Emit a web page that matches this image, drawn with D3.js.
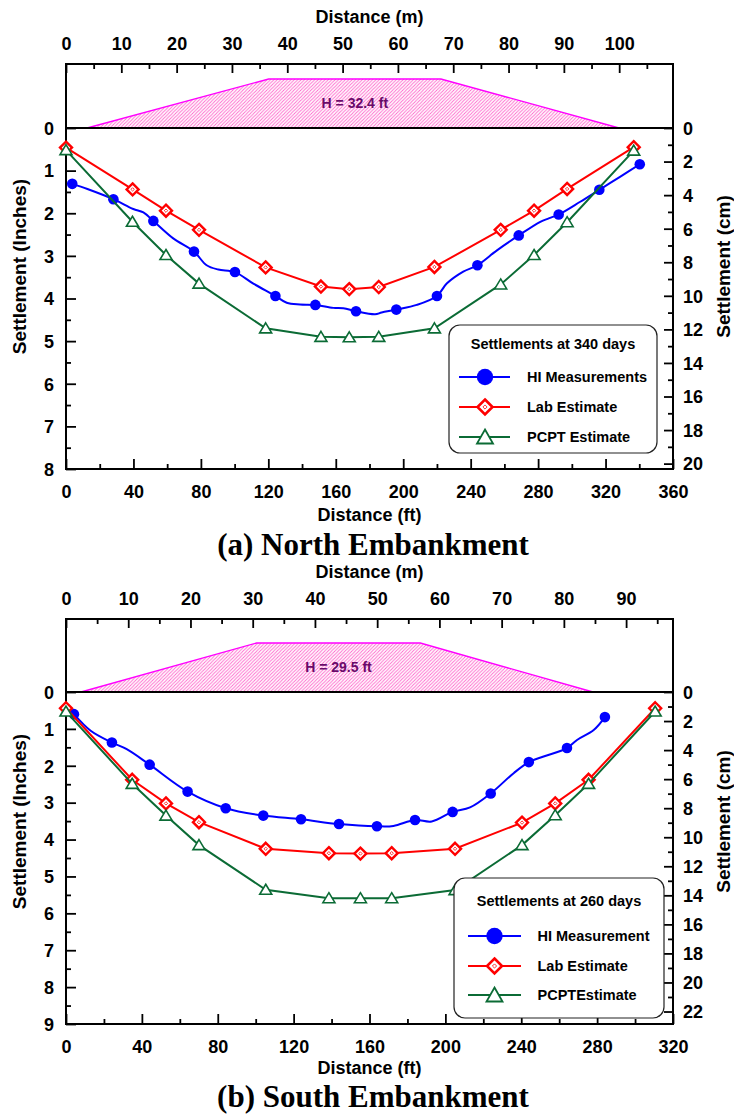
<!DOCTYPE html>
<html>
<head>
<meta charset="utf-8">
<script src="https://cdn.jsdelivr.net/npm/d3@7"></script>
<style>
  body { margin: 0; background: #fff; }
  svg { display: block; }
  text { font-family: "Liberation Sans", Arial, Helvetica, sans-serif; font-weight: bold; fill: #000; }
</style>
</head>
<body>
<svg id="chart" width="734" height="1116"></svg>
<script>
// ---------- North embankment: settlements at 340 days (distance ft, settlement in) ----------
const northHiMarkers = [[3.7,1.31],[28.1,1.67],[51.8,2.18],[75.9,2.90],[100.2,3.38],[124.2,3.94],[147.9,4.15],[172,4.30],[195.9,4.26],[220,3.94],[244,3.22],[268.5,2.52],[292.2,2.03],[316.3,1.45],[340.3,0.85]];
const northHiProfile = [[3.7,1.31],[12.7,1.43],[28.1,1.67],[39.9,1.90],[45.9,1.98],[51.8,2.18],[63.6,2.59],[75.9,2.90],[83.4,3.22],[90.3,3.32],[100.2,3.38],[111.1,3.65],[124.2,3.94],[130.9,4.10],[138.8,4.14],[147.9,4.15],[158.5,4.22],[164.5,4.23],[172,4.30],[183.3,4.37],[187.2,4.33],[195.9,4.26],[208,4.15],[220,3.94],[225.8,3.65],[235.6,3.37],[244,3.22],[255.6,2.87],[268.5,2.52],[281.3,2.20],[286.3,2.12],[292.2,2.03],[305,1.73],[316.3,1.45],[328.8,1.14],[340.3,0.85]];
const northLab = [[0,0.46],[39.5,1.44],[59.3,1.94],[78.9,2.39],[118.4,3.27],[151.2,3.72],[168,3.78],[185.5,3.73],[218.5,3.26],[257.8,2.39],[277.6,1.94],[297.2,1.43],[336.7,0.45]];
const northPcpt = [[0,0.52],[39.4,2.20],[59.3,2.98],[78.9,3.65],[118.4,4.70],[151.2,4.90],[168,4.91],[185.5,4.90],[218.5,4.70],[257.8,3.67],[277.6,2.98],[297.2,2.21],[336.7,0.53]];
const northEmbankment = [12.5, 120.2, 222.4, 328];   // toe, crest, crest, toe (ft)
const northHeight = 32.4;
const northSeriesNames = ["HI Measurements", "Lab Estimate", "PCPT Estimate"];

// ---------- South embankment: settlements at 260 days ----------
const southHiMarkers = [[4.2,0.60],[24.2,1.37],[44.1,1.97],[64.1,2.70],[84.2,3.15],[104,3.35],[123.9,3.45],[143.9,3.58],[163.9,3.64],[184,3.47],[203.8,3.25],[223.9,2.75],[244,1.90],[264.1,1.52],[284.1,0.68]];
const southHiProfile = [[4.2,0.60],[13,1.05],[24.2,1.37],[32,1.55],[44.1,1.97],[64.1,2.70],[84.2,3.15],[104,3.35],[123.9,3.45],[143.9,3.58],[163.9,3.64],[172.6,3.63],[184,3.47],[192.8,3.51],[203.8,3.25],[213,3.13],[223.9,2.75],[236,2.20],[244,1.90],[251.8,1.75],[264.1,1.52],[269.4,1.30],[278.2,1.03],[284.1,0.68]];
const southLab = [[0,0.44],[34.9,2.38],[52.7,3.02],[70.1,3.53],[105.3,4.25],[138.6,4.37],[155.2,4.38],[171.7,4.37],[205.1,4.25],[240.4,3.54],[257.9,3.02],[275.5,2.38],[310.6,0.44]];
const southPcpt = [[0,0.53],[34.9,2.49],[52.7,3.35],[70.1,4.15],[105.3,5.36],[138.6,5.59],[155.2,5.59],[171.7,5.59],[205.1,5.37],[240.4,4.15],[257.9,3.34],[275.5,2.49],[310.6,0.53]];
const southEmbankment = [7.9, 100.5, 186.8, 277.8];
const southHeight = 29.5;
const southSeriesNames = ["HI Measurement", "Lab Estimate", "PCPTEstimate"];

// ---------- Axis ticks ----------
const northFtTicks = d3.range(0, 361, 40);
const southFtTicks = d3.range(0, 321, 40);
const northMTicks = d3.range(0, 101, 10);
const southMTicks = d3.range(0, 91, 10);
const northInTicks = d3.range(0, 9, 1);
const southInTicks = d3.range(0, 10, 1);
const northCmTicks = d3.range(0, 21, 2);
const southCmTicks = d3.range(0, 23, 2);

const M_TO_FT = 1 / 0.3048;
const CM_PER_IN = 2.54;
const COLORS = { hi: "#0000ff", lab: "#ff0000", pcpt: "#0b6b35", emb: "#ff00ff", hatch: "#ff66cc", label: "#6a0a6a" };

const svg = d3.select("#chart");

// diagonal hatch used for the embankment fill
const defs = svg.append("defs");
const pat = defs.append("pattern").attr("id", "hatch").attr("patternUnits", "userSpaceOnUse")
  .attr("width", 3.4).attr("height", 3.4);
pat.append("path").attr("d", "M-1,1 l2,-2 M0,3.4 l3.4,-3.4 M2.4,4.4 l2,-2")
  .attr("stroke", COLORS.hatch).attr("stroke-width", 0.9);

const panels = [
  {
    frame: { left: 66, right: 673, top: 64, zero: 128, bottom: 469 },
    xMax: 360, inMax: 8, ftTicks: northFtTicks, mTicks: northMTicks, mMinorMax: 105,
    inTicks: northInTicks, cmTicks: northCmTicks, cmMax: 20,
    hi: northHiMarkers, hiLine: northHiProfile, lab: northLab, pcpt: northPcpt,
    emb: northEmbankment, H: northHeight, names: northSeriesNames,
    legendTitle: "Settlements at 340 days",
    legend: { x: 449, y: 325, w: 208, h: 128, titleDy: 19, rows: [52, 82, 112], lineX0: 10, lineX1: 61, markX: 36, textX: 78 },
    ftLabelDy: 46, title: "(a) North Embankment", titleDy: 75
  },
  {
    frame: { left: 66, right: 673, top: 619, zero: 692, bottom: 1024 },
    xMax: 320, inMax: 9, ftTicks: southFtTicks, mTicks: southMTicks, mMinorMax: 95,
    inTicks: southInTicks, cmTicks: southCmTicks, cmMax: 22,
    hi: southHiMarkers, hiLine: southHiProfile, lab: southLab, pcpt: southPcpt,
    emb: southEmbankment, H: southHeight, names: southSeriesNames,
    legendTitle: "Settlements at 260 days",
    legend: { x: 454, y: 878, w: 210, h: 140, titleDy: 23, rows: [58, 88, 117], lineX0: 14, lineX1: 67, markX: 40.5, textX: 83.5 },
    ftLabelDy: 44, title: "(b) South Embankment", titleDy: 72
  }
];

// marker shapes
function diamondPath(s) { return `M0,${-s}L${s},0L0,${s}L${-s},0Z`; }
function trianglePath(w, up, down) { return `M0,${-up}L${w},${down}L${-w},${down}Z`; }

function drawCircle(g, x, y, r) {
  g.append("circle").attr("cx", x).attr("cy", y).attr("r", r).attr("fill", COLORS.hi);
}
function drawDiamond(g, x, y, s, sw) {
  g.append("path").attr("d", diamondPath(s)).attr("transform", `translate(${x},${y})`)
    .attr("fill", "#fff").attr("stroke", COLORS.lab).attr("stroke-width", sw);
  g.append("path").attr("d", diamondPath(s * 0.28)).attr("transform", `translate(${x},${y})`)
    .attr("fill", "none").attr("stroke", COLORS.lab).attr("stroke-width", 0.8);
}
function drawTriangle(g, x, y, w, up, down, sw) {
  g.append("path").attr("d", trianglePath(w, up, down)).attr("transform", `translate(${x},${y})`)
    .attr("fill", "#fff").attr("stroke", COLORS.pcpt).attr("stroke-width", sw);
}

panels.forEach(p => {
  const f = p.frame;
  const g = svg.append("g");

  const x = d3.scaleLinear().domain([0, p.xMax]).range([f.left, f.right]);
  const xM = d3.scaleLinear().domain([0, p.xMax / M_TO_FT]).range([f.left, f.right]);
  const yIn = d3.scaleLinear().domain([0, p.inMax]).range([f.zero, f.bottom]);
  const yCm = d3.scaleLinear().domain([0, p.inMax * CM_PER_IN]).range([f.zero, f.bottom]);
  const yH = d3.scaleLinear().domain([0, p.H]).range([f.zero, f.zero - 49]);

  // embankment cross-section
  const embPts = [[p.emb[0], 0], [p.emb[1], p.H], [p.emb[2], p.H], [p.emb[3], 0]];
  g.append("path")
    .attr("d", d3.line().x(d => x(d[0])).y(d => yH(d[1]))(embPts) + "Z")
    .attr("fill", "url(#hatch)").attr("stroke", "none");
  g.append("path")
    .attr("d", d3.line().x(d => x(d[0])).y(d => yH(d[1]))(embPts))
    .attr("fill", "none").attr("stroke", COLORS.emb).attr("stroke-width", 1.3);
  g.append("text").attr("x", x((p.emb[1] + p.emb[2]) / 2)).attr("y", yH(p.H / 2))
    .attr("dy", "0.35em").attr("text-anchor", "middle").style("font-size", "14px")
    .style("fill", COLORS.label).text(`H = ${p.H} ft`);

  // axes
  const styleAxis = sel => {
    sel.select(".domain").remove();
    sel.selectAll(".tick line").attr("stroke", "#000").attr("stroke-width", 1.8);
    sel.selectAll("text").style("font-size", "18px").attr("fill", "#000")
      .style("font-family", "'Liberation Sans', Arial, sans-serif").style("font-weight", "bold");
  };

  // bottom: ft
  g.append("g").attr("transform", `translate(0,${f.bottom})`)
    .call(d3.axisBottom(x).tickValues(d3.range(20, p.xMax, 40)).tickSize(-5).tickFormat(""))
    .call(styleAxis);
  g.append("g").attr("transform", `translate(0,${f.bottom})`)
    .call(d3.axisBottom(x).tickValues(p.ftTicks).tickSize(-10))
    .call(styleAxis)
    .call(s => s.selectAll("text").attr("y", 23).attr("dy", "0.35em"));

  // top: m
  g.append("g").attr("transform", `translate(0,${f.top})`)
    .call(d3.axisTop(xM).tickValues(d3.range(5, p.mMinorMax + 1, 10)).tickSize(-5).tickFormat(""))
    .call(styleAxis);
  g.append("g").attr("transform", `translate(0,${f.top})`)
    .call(d3.axisTop(xM).tickValues(p.mTicks).tickSize(-9))
    .call(styleAxis)
    .call(s => s.selectAll("text").attr("y", -20.5).attr("dy", "0.35em"));

  // left: inches
  g.append("g").attr("transform", `translate(${f.left},0)`)
    .call(d3.axisLeft(yIn).tickValues(d3.range(0.5, p.inMax, 1)).tickSize(-5).tickFormat(""))
    .call(styleAxis);
  g.append("g").attr("transform", `translate(${f.left},0)`)
    .call(d3.axisLeft(yIn).tickValues(p.inTicks).tickSize(-10))
    .call(styleAxis)
    .call(s => s.selectAll("text").attr("x", -12).attr("dy", "0.35em"));

  // right: cm
  g.append("g").attr("transform", `translate(${f.right},0)`)
    .call(d3.axisRight(yCm).tickValues(d3.range(1, p.cmMax, 2)).tickSize(-5).tickFormat(""))
    .call(styleAxis);
  g.append("g").attr("transform", `translate(${f.right},0)`)
    .call(d3.axisRight(yCm).tickValues(p.cmTicks).tickSize(-9))
    .call(styleAxis)
    .call(s => s.selectAll("text").attr("x", 10).attr("dy", "0.35em"));

  // frame and ground line
  g.append("rect").attr("x", f.left).attr("y", f.top).attr("width", f.right - f.left)
    .attr("height", f.bottom - f.top).attr("fill", "none").attr("stroke", "#000").attr("stroke-width", 2);
  g.append("line").attr("x1", f.left).attr("x2", f.right).attr("y1", f.zero).attr("y2", f.zero)
    .attr("stroke", "#000").attr("stroke-width", 2);

  // axis titles
  const midY = (f.top + f.bottom) / 2;
  const midX = (f.left + f.right) / 2;
  g.append("text").attr("x", midX).attr("y", f.top - 47).attr("dy", "0.35em")
    .attr("text-anchor", "middle").style("font-size", "18px").text("Distance (m)");
  g.append("text").attr("x", midX).attr("y", f.bottom + p.ftLabelDy).attr("dy", "0.35em")
    .attr("text-anchor", "middle").style("font-size", "18px").text("Distance (ft)");
  g.append("text").attr("transform", `translate(19,${midY}) rotate(-90)`).attr("dy", "0.35em")
    .attr("text-anchor", "middle").style("font-size", "19px").text("Settlement (Inches)");
  g.append("text").attr("transform", `translate(723,${midY}) rotate(-90)`).attr("dy", "0.35em")
    .attr("text-anchor", "middle").style("font-size", "19px").text("Settlement (cm)");
  g.append("text").attr("x", 373).attr("y", f.bottom + p.titleDy).attr("dy", "0.35em")
    .attr("text-anchor", "middle")
    .style("font-family", "'Liberation Serif', 'Times New Roman', serif")
    .style("font-size", "31px").text(p.title);

  // series
  const lineLin = d3.line().x(d => x(d[0])).y(d => yIn(d[1]));
  const lineSmooth = d3.line().x(d => x(d[0])).y(d => yIn(d[1])).curve(d3.curveCatmullRom.alpha(0.5));

  g.append("path").attr("d", lineSmooth(p.hiLine)).attr("fill", "none")
    .attr("stroke", COLORS.hi).attr("stroke-width", 2);
  p.hi.forEach(d => drawCircle(g, x(d[0]), yIn(d[1]), 5.3));

  g.append("path").attr("d", lineLin(p.lab)).attr("fill", "none")
    .attr("stroke", COLORS.lab).attr("stroke-width", 2);
  p.lab.forEach(d => drawDiamond(g, x(d[0]), yIn(d[1]), 6, 2.4));

  g.append("path").attr("d", lineLin(p.pcpt)).attr("fill", "none")
    .attr("stroke", COLORS.pcpt).attr("stroke-width", 2);
  p.pcpt.forEach(d => drawTriangle(g, x(d[0]), yIn(d[1]), 6, 5.5, 4.5, 1.6));

  // legend
  const L = p.legend;
  const lg = g.append("g").attr("transform", `translate(${L.x},${L.y})`);
  lg.append("rect").attr("width", L.w).attr("height", L.h).attr("rx", 11)
    .attr("fill", "#fff").attr("stroke", "#222").attr("stroke-width", 1.2);
  lg.append("text").attr("x", L.w / 2).attr("y", L.titleDy).attr("dy", "0.35em")
    .attr("text-anchor", "middle").style("font-size", "14.5px").text(p.legendTitle);
  const colors = [COLORS.hi, COLORS.lab, COLORS.pcpt];
  L.rows.forEach((ry, i) => {
    lg.append("line").attr("x1", L.lineX0).attr("x2", L.lineX1).attr("y1", ry).attr("y2", ry)
      .attr("stroke", colors[i]).attr("stroke-width", 2);
    if (i === 0) drawCircle(lg, L.markX, ry, 8.2);
    if (i === 1) drawDiamond(lg, L.markX, ry, 7.5, 2.6);
    if (i === 2) drawTriangle(lg, L.markX, ry, 8, 7.5, 6.5, 1.8);
    lg.append("text").attr("x", L.textX).attr("y", ry).attr("dy", "0.35em")
      .style("font-size", "14.5px").text(p.names[i]);
  });
});
</script>
</body>
</html>
